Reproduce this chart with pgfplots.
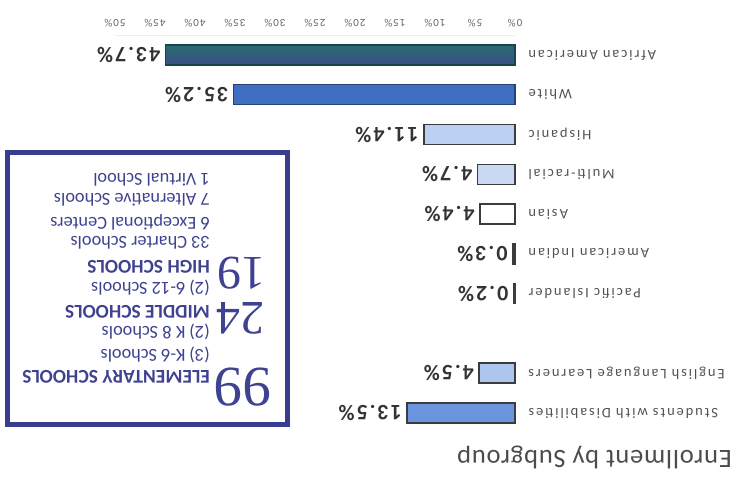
\documentclass[border=0pt]{standalone}
\usepackage{pgfplots}
\pgfplotsset{compat=1.18}
\usepackage{fontspec}
\setmainfont{Carlito}
\newfontfamily\labfont[LetterSpace=13]{Carlito}
\newfontfamily\tickfont[LetterSpace=10]{Carlito}
\newfontfamily\valfont[LetterSpace=9]{Carlito}
\newfontfamily\titfont[LetterSpace=3]{Carlito}
\newfontfamily\numfont{Liberation Serif}
\definecolor{navy}{HTML}{393D8E}
\definecolor{navytxt}{HTML}{3F4290}
\definecolor{aacol}{HTML}{24636A}
\definecolor{aatop}{HTML}{3A4E84}
\definecolor{aamid}{HTML}{2B6B72}
\definecolor{whcol}{HTML}{3E6FC2}
\definecolor{hicol}{HTML}{BBD0F2}
\definecolor{mrcol}{HTML}{C9D8F3}
\definecolor{ellcol}{HTML}{ADC6EE}
\definecolor{swdcol}{HTML}{6A95DE}
\definecolor{edge}{HTML}{3C3C3C}
\begin{document}
\rotatebox{180}{%
\begin{tikzpicture}
\useasboundingbox (0,0) rectangle (735pt,487pt);
\begin{axis}[
  at={(220pt,35.1pt)}, anchor=south west, scale only axis,
  width=400pt, height=397.8pt,
  xmin=0, xmax=50, ymin=-0.5, ymax=9.5,
  xbar, bar width=20pt, /pgf/bar shift=0pt,
  xtick={0,5,...,50},
  xticklabel={\pgfmathprintnumber{\tick}\%},
  /pgf/number format/assume math mode=true,
  ytick={0,1,2,3,4,5,6,8,9},
  yticklabels={African American, White, Hispanic, Multi-racial, Asian, American Indian, Pacific Islander, English Language Learners, Students with Disabilities},
  axis x line*=bottom, axis y line*=left,
  x axis line style={draw=black!7},
  y axis line style={draw=none},
  major tick length=0pt,
  xticklabel style={font=\tickfont\fontsize{11}{13}\selectfont, text=black!60, yshift=-5pt},
  yticklabel style={font=\labfont\fontsize{14.5}{16}\selectfont, text=black!68, xshift=-10pt},
  point meta=x,
  nodes near coords={\pgfmathprintnumber[fixed,fixed zerofill,precision=1]{\pgfplotspointmeta}\%},
  every node near coord/.append style={font=\valfont\bfseries\fontsize{22}{24}\selectfont, text=black!80, anchor=west, xshift=1pt},
  clip=false,
]
\addplot[top color=aatop, middle color=aamid, bottom color=aamid, draw=aacol!70!black, line width=1.2pt] coordinates {(43.7,0)};
\addplot[fill=whcol, draw=whcol!60!black, line width=1.2pt] coordinates {(35.2,1)};
\addplot[fill=hicol, draw=edge, line width=1.5pt] coordinates {(11.4,2)};
\addplot[fill=mrcol, draw=edge, line width=1.5pt] coordinates {(4.7,3)};
\addplot[fill=white, draw=edge, line width=1.5pt] coordinates {(4.4,4)};
\addplot[fill=edge, draw=edge, line width=1.5pt] coordinates {(0.3,5)};
\addplot[fill=edge, draw=edge, line width=1.5pt] coordinates {(0.2,6)};
\addplot[fill=ellcol, draw=edge, line width=1.5pt] coordinates {(4.5,8)};
\addplot[fill=swdcol, draw=edge, line width=1.5pt] coordinates {(13.5,9)};
\end{axis}
\node[anchor=west, inner sep=0pt, text=black!70, font=\titfont\fontsize{26.5}{30}\selectfont] at (3pt,457pt) {Enrollment by Subgroup};
\draw[navy, line width=5pt] (447.5pt,152.5pt) rectangle (727.5pt,424.5pt);
\begin{scope}[every node/.style={anchor=west, inner sep=0pt, text=navytxt}]
\node[anchor=center, font=\numfont\fontsize{57}{57}\selectfont] at (492pt,387pt) {99};
\node[font=\bfseries\fontsize{19.5}{21}\selectfont] at (525pt,377pt) {ELEMENTARY SCHOOLS};
\node[font=\fontsize{18.3}{20}\selectfont] at (525pt,355pt) {(3) K-6 Schools};
\node[font=\fontsize{18.3}{20}\selectfont] at (525pt,332pt) {(2) K 8 Schools};
\node[anchor=center, font=\numfont\fontsize{48}{48}\selectfont] at (494pt,318pt) {24};
\node[font=\bfseries\fontsize{19.5}{21}\selectfont] at (525pt,312pt) {MIDDLE SCHOOLS};
\node[font=\fontsize{18.3}{20}\selectfont] at (525pt,288pt) {(2) 6-12 Schools};
\node[anchor=center, font=\numfont\fontsize{48}{48}\selectfont] at (493pt,273pt) {19};
\node[font=\bfseries\fontsize{19.5}{21}\selectfont] at (525pt,267pt) {HIGH SCHOOLS};
\node[font=\fontsize{18.3}{20}\selectfont] at (525pt,243pt) {33 Charter Schools};
\node[font=\fontsize{18.3}{20}\selectfont] at (525pt,222pt) {6 Exceptional Centers};
\node[font=\fontsize{18.3}{20}\selectfont] at (525pt,200pt) {7 Alternative Schools};
\node[font=\fontsize{18.3}{20}\selectfont] at (525pt,180pt) {1 Virtual School};
\end{scope}
\end{tikzpicture}%
}
\end{document}
